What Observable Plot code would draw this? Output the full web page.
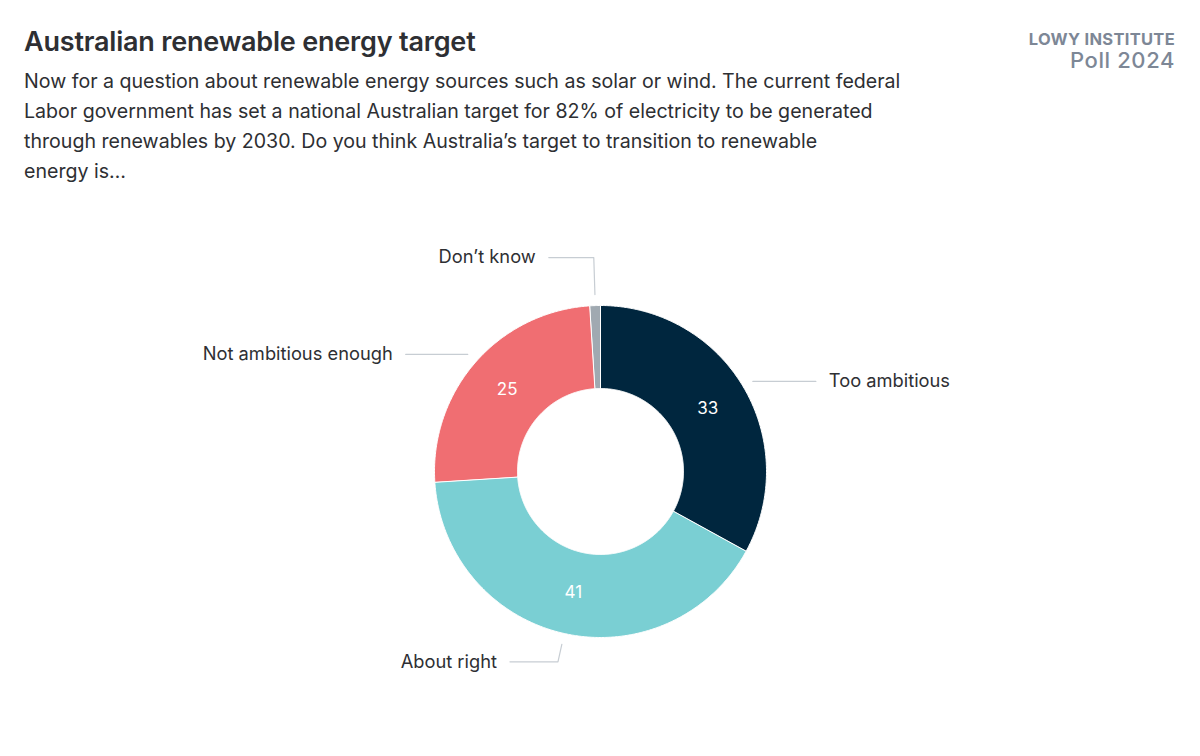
<!DOCTYPE html>
<html>
<head>
<meta charset="utf-8">
<script src="https://cdn.jsdelivr.net/npm/d3@7"></script>
<script src="https://cdn.jsdelivr.net/npm/@observablehq/plot@0.6"></script>
<style>
  html, body { margin: 0; padding: 0; background: #fff; }
  body { width: 1200px; height: 756px; overflow: hidden; font-family: Inter, "Noto Sans", sans-serif; color: #2e2f33; }
  #header { position: relative; height: 200px; }
  #title { position: absolute; left: 24px; top: 25px; font-size: 27px; font-weight: 600; letter-spacing: -0.2px; white-space: nowrap; }
  #subtitle { position: absolute; left: 24px; top: 66px; width: 940px; font-size: 19.6px; line-height: 30px; font-weight: 400; white-space: nowrap; }
  #logo { position: absolute; right: 25px; top: 30px; text-align: right; color: #7d8796; }
  #logo .l1 { font-size: 16.5px; font-weight: 700; letter-spacing: 0.3px; line-height: 19px; white-space: nowrap; }
  #logo .l2 { font-size: 22px; font-weight: 500; line-height: 22px; letter-spacing: 0.6px; white-space: nowrap; }
  #chart { height: 556px; }
</style>
</head>
<body>
<div id="header">
  <div id="title">Australian renewable energy target</div>
  <div id="subtitle">Now for a question about renewable energy sources such as solar or wind. The current federal<br>Labor government has set a national Australian target for 82% of electricity to be generated<br>through renewables by 2030. Do you think Australia’s target to transition to renewable<br>energy is…</div>
  <div id="logo"><div class="l1">LOWY INSTITUTE</div><div class="l2">Poll 2024</div></div>
</div>
<div id="chart"></div>
<script>
// Data
const categories = ["Too ambitious", "About right", "Not ambitious enough", "Don’t know"];
const values = [33, 41, 25, 1];
const colors = ["#00263e", "#7acfd3", "#f06e72", "#a0a9b1"];
// connector layout (per category)
const elbowRadius = [177, 195, 177, 214];
const connectorLength = [63, 48, 62, 45];

const R = 166, R0 = 83, RLABEL = 124.5, RCONN = 177;

const pie = d3.pie().sort(null).value(d => d.value);
const arcs = pie(categories.map((c, i) => ({key: c, value: values[i], i})));

const polar = (r, a) => [r * Math.sin(a), r * Math.cos(a)];

// slice polygons
const poly = [];
for (const a of arcs) {
  const n = Math.max(4, Math.ceil((a.endAngle - a.startAngle) / (Math.PI / 360)));
  for (let k = 0; k <= n; k++) {
    const t = a.startAngle + (a.endAngle - a.startAngle) * k / n;
    const [x, y] = polar(R, t);
    poly.push({key: a.data.key, x, y});
  }
  for (let k = n; k >= 0; k--) {
    const t = a.startAngle + (a.endAngle - a.startAngle) * k / n;
    const [x, y] = polar(R0, t);
    poly.push({key: a.data.key, x, y});
  }
}

// value labels
const valueLabels = arcs.filter(a => a.data.value >= 5).map(a => {
  const m = (a.startAngle + a.endAngle) / 2;
  const [x, y] = polar(RLABEL, m);
  return {x, y, text: String(a.data.value)};
});

// connectors
const conn = [];
const catLabels = [];
arcs.forEach((a, i) => {
  const m = (a.startAngle + a.endAngle) / 2;
  const side = Math.sin(m) >= 0 ? 1 : -1;
  const [sx, sy] = polar(RCONN, m);
  const [ex, ey] = polar(elbowRadius[i], m);
  const endX = ex + side * connectorLength[i];
  conn.push({key: a.data.key, x: sx, y: sy});
  conn.push({key: a.data.key, x: ex, y: ey});
  conn.push({key: a.data.key, x: endX, y: ey});
  catLabels.push({x: endX + side * 13, y: ey, text: a.data.key, anchor: side > 0 ? "start" : "end"});
});

const chart = Plot.plot({
  width: 1200,
  height: 556,
  margin: 0,
  x: {domain: [-600, 600], range: [0, 1200], axis: null},
  y: {domain: [-285, 271], range: [556, 0], axis: null},
  color: {domain: categories, range: colors},
  style: {fontFamily: "Inter, 'Noto Sans', sans-serif", background: "#fff"},
  marks: [
    Plot.line(poly, {x: "x", y: "y", z: "key", fill: "key", stroke: "#ffffff", strokeWidth: 1, strokeLinejoin: "round", curve: "linear-closed"}),
    Plot.line(conn, {x: "x", y: "y", z: "key", stroke: "#c7cdd3", strokeWidth: 1.2}),
    Plot.text(valueLabels, {x: "x", y: "y", text: "text", fill: "#ffffff", fontSize: 17, fontWeight: 400}),
    Plot.text(catLabels.filter(d => d.anchor === "start"), {x: "x", y: "y", text: "text", textAnchor: "start", fill: "#2e2f33", fontSize: 18.3}),
    Plot.text(catLabels.filter(d => d.anchor === "end"), {x: "x", y: "y", text: "text", textAnchor: "end", fill: "#2e2f33", fontSize: 18.3})
  ]
});
document.getElementById("chart").appendChild(chart);
</script>
</body>
</html>
